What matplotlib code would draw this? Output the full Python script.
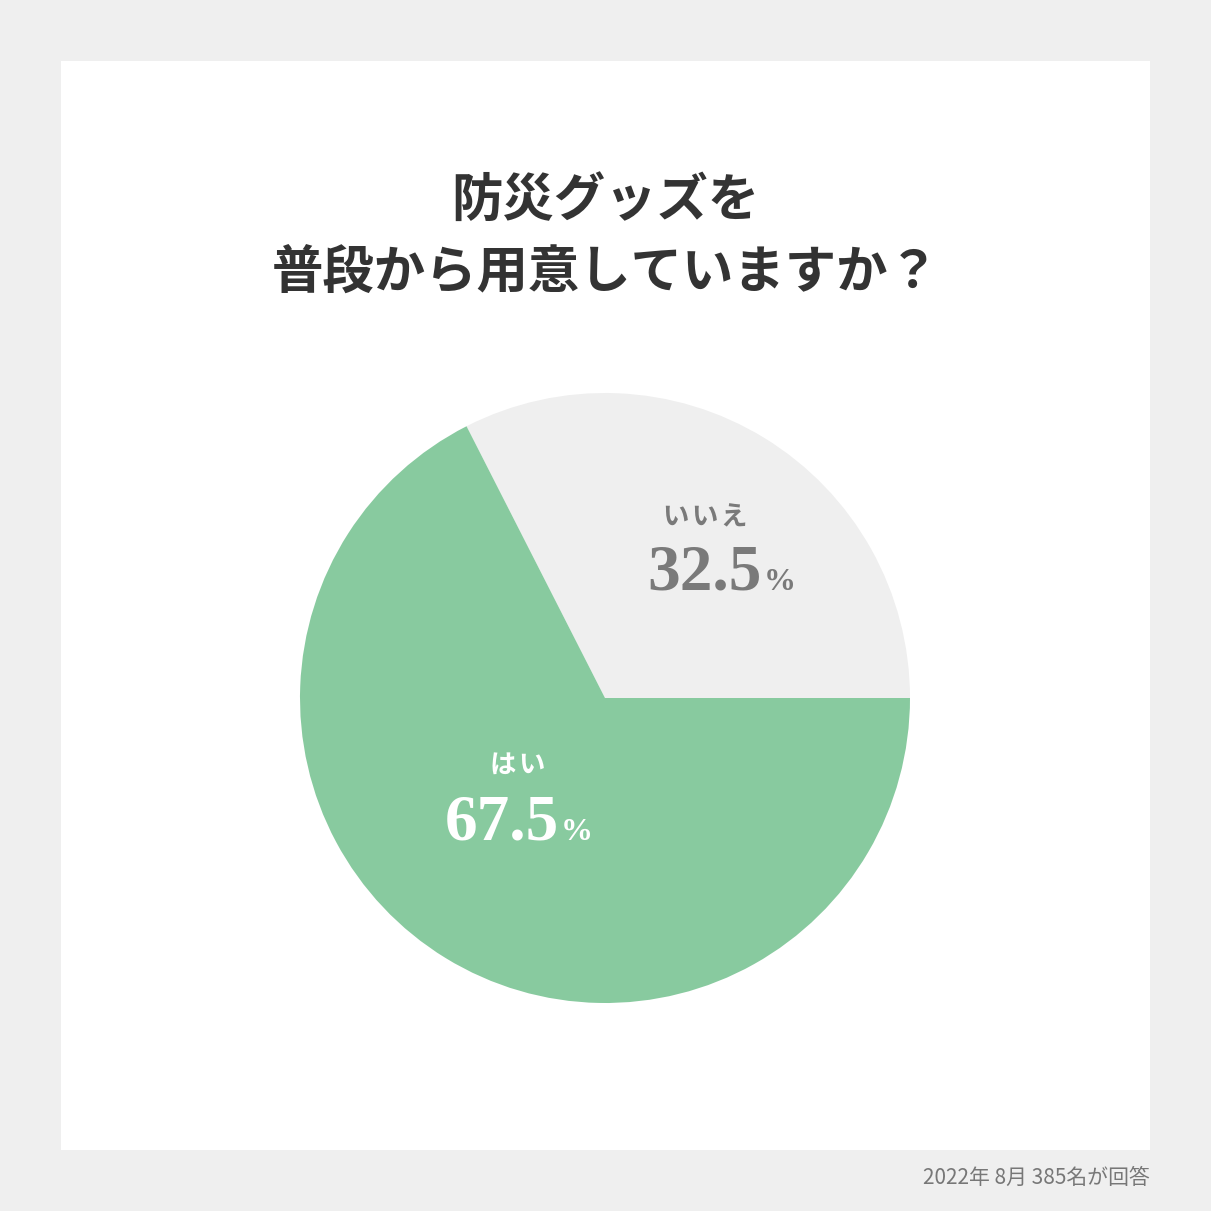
import matplotlib
matplotlib.use("Agg")
import matplotlib.pyplot as plt
from matplotlib.patches import Rectangle

plt.rcParams['font.family'] = ['Noto Sans CJK JP', 'DejaVu Sans']

# データ
labels = ['いいえ', 'はい']
values = [32.5, 67.5]
colors = ['#efefef', '#88ca9f']
text_colors = ['#7a7a7a', '#ffffff']
title = '防災グッズを\n普段から用意していますか？'
note = '2022年 8月 385名が回答'

W = 1211
fig = plt.figure(figsize=(12.11, 12.11), dpi=100, facecolor='#efefef')

# 白いパネル
fig.patches.append(Rectangle((61 / W, 61 / W), 1089 / W, 1089 / W,
                             transform=fig.transFigure, facecolor='white',
                             edgecolor='none', zorder=-10))

# 円グラフ (中心 605,698 / 半径 305 px)
cx, cy, r = 605, 698, 305
ax = fig.add_axes([(cx - r) / W, (W - cy - r) / W, 2 * r / W, 2 * r / W])
ax.set_zorder(1)
ax.patch.set_visible(False)
ax.pie(values, colors=colors, startangle=0, counterclock=True,
       wedgeprops=dict(linewidth=0))
ax.set_xlim(-1, 1)
ax.set_ylim(-1, 1)
ax.set_aspect('equal')
ax.axis('off')

# ラベル位置 (データ座標)
label_pos = [(0.33, 0.59), (-0.285, -0.22)]
num_pos = [(0.515, 0.355), (-0.15, -0.465)]

for lab, v, tc, (lx, ly), (nx, ny) in zip(labels, values, text_colors, label_pos, num_pos):
    ax.text(lx, ly, ' '.join(lab).replace(' ', '\u200a'), ha='center', va='center',
            fontsize=19, fontweight='bold', color=tc)
    ax.text(nx, ny, f'{v:.1f}', ha='right', va='baseline', fontsize=47,
            fontweight='bold', color=tc, family='Liberation Serif')
    ax.text(nx + 0.004, ny, '%', ha='left', va='baseline', fontsize=23,
            fontweight='bold', color=tc, family='Liberation Serif')

# タイトル
for i, line in enumerate(title.split('\n')):
    fig.text(0.5, (W - 200 - 72 * i) / W, line, ha='center', va='center',
             fontsize=37, fontweight='bold', color='#333333')

# 注記
fig.text(1150 / W, (W - 1178) / W, note, ha='right', va='center',
         fontsize=15, color='#777777')

fig.savefig('out.png', dpi=100, facecolor=fig.get_facecolor())
